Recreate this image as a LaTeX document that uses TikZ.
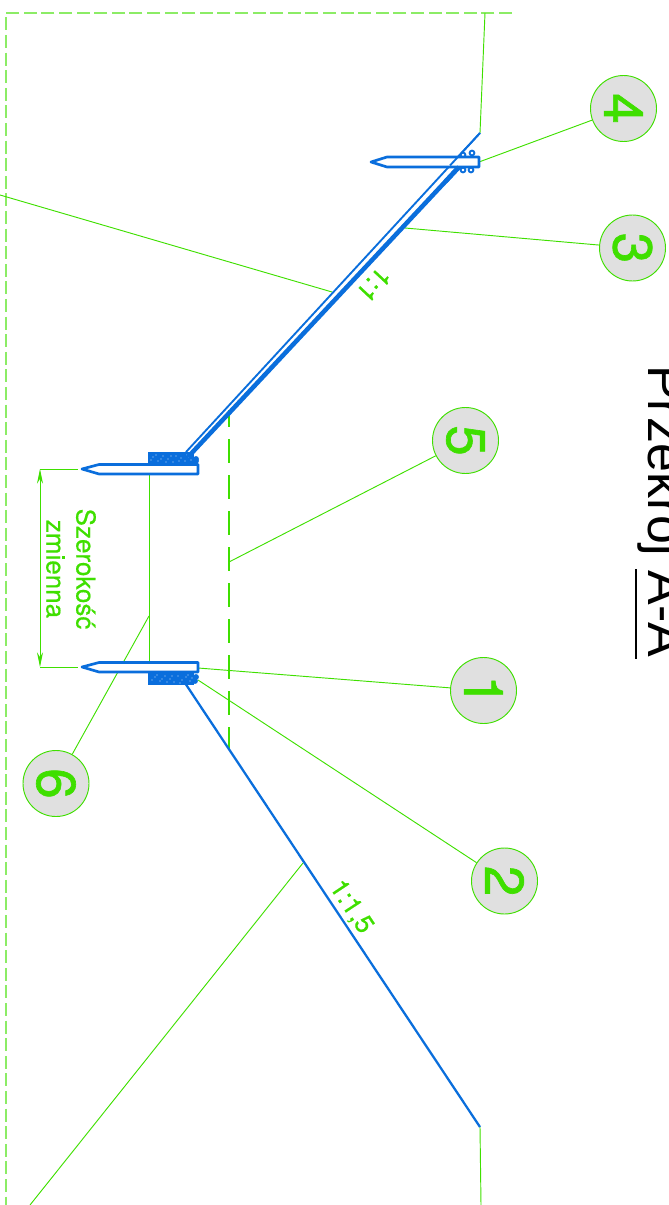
\documentclass[tikz,border=0pt]{standalone}
\usepackage{fontspec}
\setmainfont{Liberation Sans}
\newfontfamily\heavyfont[FakeBold=1.2]{TeX Gyre Heros}
\newfontfamily\midfont[FakeBold=0.5]{TeX Gyre Heros}
\usetikzlibrary{arrows.meta}
\definecolor{lgreen}{HTML}{3FDF00}
\definecolor{dblue}{HTML}{0A6EDC}
\definecolor{cfill}{HTML}{E0E0E0}
\tikzset{
  thin green/.style={draw=lgreen,line width=0.7pt},
  boundary/.style={draw=lgreen!60,line width=1pt,dash pattern=on 9.8pt off 3.4pt},
  axisline/.style={draw=lgreen,line width=0.9pt,dash pattern=on 18pt off 9pt,dash phase=5pt},
  slope/.style={draw=dblue,line width=1.7pt},
  stake/.style={draw=dblue,line width=2pt,fill=white,line join=round},
  stones/.style={fill=dblue},
  pebble/.style={draw=dblue,line width=1.4pt,fill=white},
  callout/.style={circle,draw=lgreen,line width=0.7pt,fill=cfill,minimum size=49.5pt,inner sep=0pt,text=lgreen,font=\heavyfont\fontsize{41}{41}\selectfont,rotate=-90},
  label green/.style={text=lgreen,inner sep=0pt,font=\midfont\fontsize{19.5}{19.5}\selectfont},
}
\begin{document}
\begin{tikzpicture}[x=0.75pt,y=-0.75pt]
\useasboundingbox (0,0) rectangle (668,1205);
\clip (0,0) rectangle (668,1205);
% anchor points
\coordinate (tt) at (485,13);
\coordinate (tr) at (480,133);
\coordinate (sl) at (186,452);
\coordinate (sb) at (188,457);
\coordinate (st) at (459,167);
\coordinate (lb) at (185,683);
\coordinate (le) at (480,1127);
\coordinate (le2) at (481,1205);
\coordinate (bl) at (6,13);
\coordinate (br) at (512,13);
\coordinate (bb) at (6,1205);
\coordinate (a1) at (198,668);
\coordinate (a2) at (198,680);
\coordinate (a3) at (405,228);
\coordinate (a4) at (479,162);
\coordinate (a5) at (229,562);
\coordinate (a6) at (149,616);
\coordinate (ax1) at (229,410);
\coordinate (ax2) at (229,750);
\coordinate (w1) at (149,475);
\coordinate (w2) at (149,662);
\coordinate (g1) at (0,195);
\coordinate (g2) at (332,292);
\coordinate (g3) at (303,863);
\coordinate (g4) at (30,1205);
\coordinate (d1) at (40,469);
\coordinate (d2) at (40,667);
\coordinate (e1) at (78,469);
\coordinate (e2) at (78,667);
\coordinate (u1) at (636,569);
\coordinate (u2) at (636,659);
% callouts
\node[callout] (c4) at (623.5,108.5) {4};
\node[callout] (c3) at (632.5,248) {3};
\node[callout] (c5) at (465.5,440.5) {5};
\node[callout] (c1) at (483.5,690.5) {1};
\node[callout] (c2) at (504.5,881) {2};
\node[callout] (c6) at (56,783.5) {6};
% frame and terrain
\draw[boundary] (br) -- (bl) -- (bb);
\draw[thin green] (tt) -- (tr);
\draw[thin green] (g1) -- (g2);
\draw[thin green] (g3) -- (g4);
\draw[thin green] (le) -- (le2);
\draw[thin green] (w1) -- (w2);
\draw[axisline] (ax1) -- (ax2);
% leaders
\draw[thin green] (a1) -- (c1);
\draw[thin green] (a2) -- (c2);
\draw[thin green] (a3) -- (c3);
\draw[thin green] (a4) -- (c4);
\draw[thin green] (a5) -- (c5);
\draw[thin green] (a6) -- (c6);
% dimension
\draw[thin green] (d1) -- (e1);
\draw[thin green] (d2) -- (e2);
\draw[thin green,{Stealth[length=11pt,width=4.5pt]}-{Stealth[length=11pt,width=4.5pt]}] (d1) -- (d2);
% stone blocks
\fill[stones] (148,452) rectangle (194,464);
\fill[stones] (148,672) rectangle (194,685);
\foreach \x/\y in {153/457,158/461,163/456,168/459,173/462,176/456,181/458,185/461,189/457,
                   151/460,156/455,161/459,166/462,171/456,179/461,187/455,191/460,
                   155/677,160/681,165/676,170/679,174/682,178/676,182/680,186/677,190/681,
                   152/680,157/675,162/679,167/682,172/676,180/683,188/675,192/678}
  \fill[white!75!dblue] (\x,\y) circle (0.55pt);
\foreach \x/\y in {196/459,196/461,196/677,195/681}
  \fill[dblue] (\x,\y) circle (2.2pt);
% slopes
\draw[slope,line width=1.4pt] (tr) -- (sl);
\draw[slope,line width=3.4pt] (st) -- (sb);
\draw[slope] (lb) -- (le);
% stakes
\draw[stake] (82,469) -- (99,464.5) -- (198,464.5) -- (198,474) -- (99,474) -- cycle;
\draw[stake] (82,667) -- (99,662.5) -- (198,662.5) -- (198,672) -- (99,672) -- cycle;
\foreach \x/\y in {463/155,472/153,463/170,471/170}
  \draw[pebble] (\x,\y) circle (1.8pt);
\draw[stake] (371,162) -- (387,157) -- (479,157) -- (479,167) -- (387,167) -- cycle;
\draw[slope,line width=1.4pt] (tr) -- (450,165.5);
\draw[slope,line width=3.4pt] (st) -- (445,182);
% texts
\node[label green,rotate=-133] (t11) at (374,285) {1:1};
\node[label green,rotate=-56.4] (t15) at (351,907) {1:1,5};
\node[label green,rotate=-90,align=center,font=\midfont\fontsize{19.5}{22.5}\selectfont] (tsz) at (71,569) {Szerokość\\zmienna};
\node[rotate=-90,anchor=base west,inner sep=0pt,font=\fontsize{39}{39}\selectfont] (title) at (648,365) {Przekroj A-A};
\draw[line width=1pt] (u1) -- (u2);
\end{tikzpicture}
\end{document}
